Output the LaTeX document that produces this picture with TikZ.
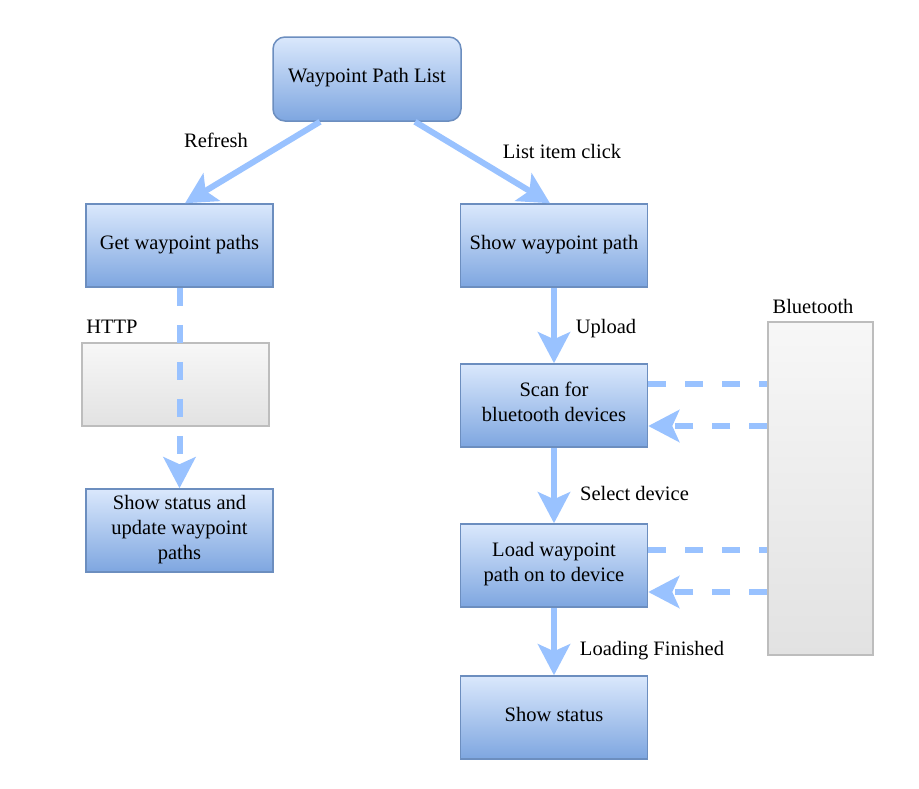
\documentclass[tikz,border=0pt]{standalone}
\usepackage{fontspec}
\setmainfont{Liberation Serif}
\usetikzlibrary{arrows.meta,calc}
\definecolor{arrc}{HTML}{99C2FF}
\definecolor{bluetop}{HTML}{DAE8FC}
\definecolor{bluebot}{HTML}{7EA6E0}
\definecolor{blueedge}{HTML}{6C8EBF}
\definecolor{graytop}{HTML}{F7F7F7}
\definecolor{graybot}{HTML}{E2E2E2}
\definecolor{grayedge}{HTML}{BDBDBD}
\tikzset{
  bluebox/.style={draw=blueedge, line width=1.5pt, top color=bluetop, bottom color=bluebot,
    minimum width=187pt, minimum height=83pt, inner sep=0pt, align=center,
    font=\fontsize{20.5pt}{25pt}\selectfont, execute at end node={\rule[-7pt]{0pt}{0pt}}},
  graybox/.style={draw=grayedge, line width=1.5pt, top color=graytop, bottom color=graybot,
    inner sep=0pt},
  lbl/.style={font=\fontsize{20.5pt}{25pt}\selectfont, inner sep=0pt},
  arrtip/.tip={Stealth[length=31pt, width=32pt, inset=7pt]},
  arr/.style={draw=arrc, line width=6pt, -arrtip},
  dsh/.style={draw=arrc, line width=6pt, dash pattern=on 18pt off 19pt},
}
\begin{document}
\begin{tikzpicture}[x=1pt,y=-1pt]
\useasboundingbox (0,0) rectangle (919,788);
% nodes
\node[bluebox, rounded corners=12pt, minimum width=188pt, minimum height=84pt] (wpl) at (367,79) {Waypoint Path List};
\node[bluebox] (get) at (179.5,245.5) {Get waypoint paths};
\node[bluebox] (show) at (554,245.5) {Show waypoint path};
\node[graybox, minimum width=187pt, minimum height=83pt] (http) at (175.5,384.5) {};
\node[bluebox] (upd) at (179.5,530.5) {Show status and\\update waypoint\\paths};
\node[bluebox] (scan) at (554,405.5) {Scan for\\bluetooth devices};
\node[bluebox] (load) at (554,565.5) {Load waypoint\\path on to device};
\node[bluebox] (stat) at (554,717.5) {Show status};
\node[graybox, minimum width=105pt, minimum height=333pt] (bt) at (820.5,488.5) {};
% labels
\node[lbl] (lrefresh) at (216,140) {Refresh};
\node[lbl] (lclick) at (562,151) {List item click};
\node[lbl] (lhttp) at (112,327) {HTTP};
\node[lbl] (lbt) at (813,306) {Bluetooth};
\node[lbl] (lup) at (606,328.5) {Upload};
\node[lbl] (lsel) at (634.5,493.5) {Select device};
\node[lbl] (lfin) at (652,650.5) {Loading Finished};
% connectors
\draw[arr] ([xshift=-47pt]wpl.south) -- ([xshift=5.5pt]get.north);
\draw[arr] ([xshift=48pt]wpl.south) -- ([xshift=-4pt]show.north);
\draw[dsh, -arrtip] (get.south) -- (upd.north);
\draw[arr] (show.south) -- (scan.north);
\draw[arr] (scan.south) -- (load.north);
\draw[arr] (load.south) -- (stat.north);
\draw[dsh] ([yshift=21.5pt]scan.east) -- ([yshift=21.5pt]scan.east -| bt.west);
\draw[dsh, -arrtip] ([yshift=-20.5pt]scan.east -| bt.west) -- ([yshift=-20.5pt]scan.east);
\draw[dsh] ([yshift=15.5pt]load.east) -- ([yshift=15.5pt]load.east -| bt.west);
\draw[dsh, -arrtip] ([yshift=-26.5pt]load.east -| bt.west) -- ([yshift=-26.5pt]load.east);
\end{tikzpicture}
\end{document}
